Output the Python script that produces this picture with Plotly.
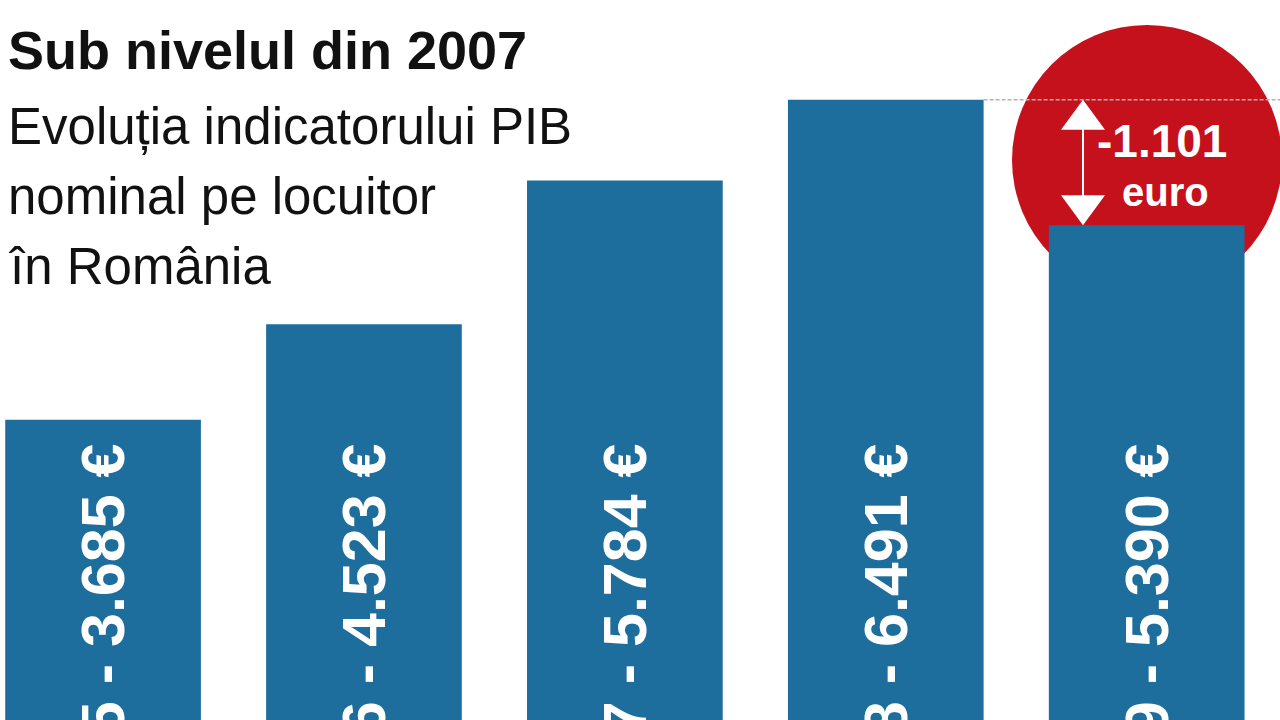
import plotly.graph_objects as go

years = ["2005", "2006", "2007", "2008", "2009"]
values = [3685, 4523, 5784, 6491, 5390]

BAR_COLOR = "#1e6e9d"
RED = "#c5111c"
FONT = "Liberation Sans Narrow, Arial Narrow, Liberation Sans, Arial, sans-serif"


def fmt(v):
    s = f"{abs(v):,}".replace(",", ".")
    return ("-" if v < 0 else "") + s


labels = [f"{y} - {fmt(v)} €" for y, v in zip(years, values)]

W, H = 1280, 720
y_range = [1052, 7366]
x_range = [-0.395, 4.511]
bargap = 0.25
px_per_y = H / (y_range[1] - y_range[0])
px_per_x = W / (x_range[1] - x_range[0])

fig = go.Figure()
fig.add_trace(go.Bar(
    x=list(range(len(years))),
    y=values,
    marker=dict(color=BAR_COLOR, line=dict(width=0)),
    text=labels,
    textposition="inside",
    insidetextanchor="start",
    textangle=-90,
    insidetextfont=dict(family=FONT, size=61, color="white", weight="bold"),
    cliponaxis=True,
    hoverinfo="skip",
))

shapes = []
# red circle behind the last bar
cx_px, cy_px, r_px = 1147, 160, 135
cx = x_range[0] + cx_px / px_per_x
cy = y_range[1] - cy_px / px_per_y
rx = r_px / px_per_x
ry = r_px / px_per_y
shapes.append(dict(type="circle", xref="x", yref="y", layer="below",
                   x0=cx - rx, x1=cx + rx, y0=cy - ry, y1=cy + ry,
                   fillcolor=RED, line=dict(width=0)))
# dashed reference line at 2008 level
shapes.append(dict(type="line", xref="x", yref="y", layer="above",
                   x0=3 + (1 - bargap) / 2, x1=x_range[1] + 0.2,
                   y0=values[3], y1=values[3],
                   line=dict(color="#b4b4b4", width=1.5, dash="4px,2px")))
# double arrow between 2008 and 2009
ax_x = x_range[0] + 1083 / px_per_x
hw = 22 / px_per_x
hl = 30 / px_per_y
top, bot = values[3], values[4]
shapes.append(dict(type="line", xref="x", yref="y",
                   x0=ax_x, x1=ax_x, y0=top - hl * 0.8, y1=bot + hl * 0.8,
                   line=dict(color="white", width=2)))
shapes.append(dict(type="path", xref="x", yref="y", fillcolor="white", line=dict(width=0),
                   path=f"M {ax_x} {top} L {ax_x - hw} {top - hl} L {ax_x + hw} {top - hl} Z"))
shapes.append(dict(type="path", xref="x", yref="y", fillcolor="white", line=dict(width=0),
                   path=f"M {ax_x} {bot} L {ax_x - hw} {bot + hl} L {ax_x + hw} {bot + hl} Z"))

diff = values[4] - values[3]


def ann_top(text, x_px, top_px, size, bold=False, color="#111111", xanchor="left"):
    return dict(text=text, xref="paper", yref="paper", x=x_px / W, y=1 - top_px / H,
                xanchor=xanchor, yanchor="top", align="left", showarrow=False,
                font=dict(family=FONT, size=size, color=color,
                          weight="bold" if bold else "normal"))


subtitle_lines = ["Evoluția indicatorului PIB", "nominal pe locuitor", "în România"]

annotations = [ann_top("Sub nivelul din 2007", 6, 18, 54, bold=True)]
for i, line in enumerate(subtitle_lines):
    annotations.append(ann_top(line, 6, 96 + 70 * i, 51))
annotations.append(dict(text=fmt(diff), xref="paper", yref="paper", x=1162 / W, y=1 - 168 / H,
                        xanchor="center", yanchor="bottom", showarrow=False, borderpad=0,
                        font=dict(family=FONT, size=46, color="white", weight="bold")))
annotations.append(dict(text="euro", xref="paper", yref="paper", x=1165 / W, y=1 - 169 / H,
                        xanchor="center", yanchor="top", showarrow=False, borderpad=0,
                        font=dict(family=FONT, size=40, color="white", weight="bold")))

fig.update_layout(
    width=W, height=H,
    margin=dict(l=0, r=0, t=0, b=0),
    paper_bgcolor="white",
    plot_bgcolor="rgba(0,0,0,0)",
    bargap=bargap,
    showlegend=False,
    xaxis=dict(range=x_range, visible=False, fixedrange=True),
    yaxis=dict(range=y_range, visible=False, fixedrange=True),
    shapes=shapes,
    annotations=annotations,
)

fig.write_html("out.html", config={"displayModeBar": False},
               post_script="document.body.style.margin='0';")
